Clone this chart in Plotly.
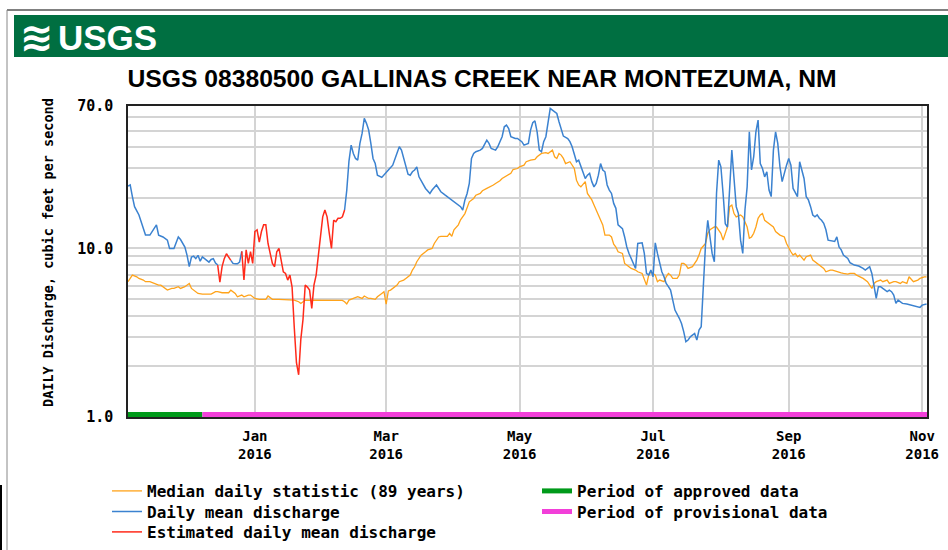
import math
import pandas as pd
import plotly.graph_objects as go

# ---------------- data (day offsets from 2015-11-04, discharge in ft3/s) ----------------
START_DATE = "2015-11-04"
END_DATE = "2016-11-03 05:00"

# Median daily statistic (89 years)
MEDIAN = [(0,6.35),(2,6.95),(4,6.79),(5,6.64),(7,6.49),(8,6.35),(10,6.35),(12,6.2),(14,6.06),(15,6.06),
          (17,5.79),(18,5.66),(20,5.79),(21,5.79),(23,5.93),(24,5.79),(26,5.93),(28,6.2),(29,5.79),(31,5.54),
          (32,5.41),(34,5.36),(37,5.36),(38,5.36),(40,5.54),(41,5.54),(43,5.46),(46,5.46),(47,5.66),(49,5.41),
          (50,5.17),(52,5.29),(53,5.17),(55,5.29),(56,5.29),(58,5.05),(60,4.99),(63,4.99),(64,5.22),(66,4.99),
          (69,4.99),(72,4.99),(75,4.99),(76,4.94),(78,4.83),(79,4.72),(81,4.94),(84,4.94),(87,4.94),(90,4.94),
          (95,4.94),(98,4.92),(99,4.83),(100,4.68),(101,4.94),(103,5.05),(104,5.12),(105,5.17),(107,5.05),(108,5.22),
          (110,5.05),(111,5.05),(113,4.99),(114,5.17),(116,5.41),(117,5.54),(118,4.68),(119,5.6),(120,5.66),(121,5.79),
          (123,6.06),(124,6.35),(126,6.49),(127,6.64),(129,6.95),(130,7.44),(131,7.79),(132,8.34),(133,8.73),(134,9.13),
          (136,9.56),(137,9.8),(139,10.0),(140,10.7),(142,11.7),(143,11.8),(146,11.8),(147,12.3),(148,11.8),(149,12.9),
          (151,13.8),(152,14.8),(154,16.1),(155,17.7),(156,18.9),(158,19.8),(159,20.7),(161,21.2),(162,22.0),(164,22.7),
          (165,23.0),(167,23.8),(168,24.3),(170,25.2),(171,26.0),(173,26.8),(175,27.9),(176,29.4),(178,29.8),(179,30.5),
          (181,31.2),(182,32.7),(184,33.4),(186,33.7),(187,35.0),(189,36.6),(191,37.0),(192,36.6),(194,38.3),(195,35.0),
          (196,34.2),(197,36.6),(198,35.8),(199,34.2),(200,31.9),(202,32.7),(203,31.2),(204,29.8),(205,25.4),(206,23.8),
          (207,23.2),(209,24.9),(210,21.2),(212,19.4),(213,18.1),(214,16.9),(215,15.8),(216,15.1),(217,13.8),(218,12.0),
          (220,12.0),(221,11.7),(222,10.6),(223,10.2),(224,9.56),(226,9.34),(227,8.15),(229,7.79),(230,7.61),(232,7.44),
          (233,7.27),(235,7.11),(236,6.64),(237,6.06),(238,6.95),(239,7.27),(241,6.95),(242,6.35),(243,6.49),(245,6.35),
          (246,6.79),(247,7.11),(248,6.95),(249,6.64),(251,6.64),(252,6.95),(253,8.15),(254,8.15),(255,7.97),(256,7.61),
          (258,7.79),(259,8.15),(260,8.53),(261,9.13),(262,10.0),(264,10.7),(265,12.3),(266,12.9),(268,13.4),(269,13.4),
          (271,12.3),(272,11.2),(274,13.4),(275,17.7),(276,18.1),(277,16.1),(278,15.4),(280,15.8),(281,15.4),(283,13.4),
          (284,11.5),(285,11.7),(286,12.3),(287,13.4),(288,15.1),(289,15.8),(290,16.1),(291,14.7),(292,14.4),(293,14.1),
          (295,13.4),(296,12.6),(298,12.0),(300,11.7),(301,10.7),(303,9.56),(304,9.13),(305,9.34),(306,8.93),(307,9.13),
          (309,8.53),(310,8.93),(312,9.13),(313,8.53),(315,8.15),(316,7.97),(318,7.61),(319,7.27),(321,7.44),(322,7.44),
          (324,7.27),(326,7.17),(327,7.11),(329,7.04),(330,7.11),(332,7.11),(333,6.95),(335,6.79),(336,6.64),(338,6.35),
          (339,6.06),(340,5.79),(341,6.2),(342,6.35),(344,6.49),(345,6.35),(347,6.49),(348,6.2),(350,6.35),(351,6.35),
          (353,6.2),(354,6.35),(356,6.2),(357,6.79),(359,6.35),(361,6.49),(362,6.64),(364,6.79),(365,6.79)]

# Daily mean discharge (measured segments)
DAILY_1 = [(0,23.4),(1,23.8),(2,20.3),(3,17.7),(5,15.8),(6,14.4),(7,13.4),(8,12.0),(10,12.0),(11,12.6),
           (13,13.8),(14,12.0),(16,11.7),(18,11.2),(19,10.0),(21,10.0),(22,11.0),(23,11.7),(24,11.3),(25,10.7),
           (26,10.2),(27,9.1),(28,7.8),(29,8.9),(30,9.0),(31,8.7),(32,9.1),(33,8.4),(34,8.9),(35,8.7),
           (36,8.5),(37,8.3),(38,8.6),(39,8.7),(40,8.2),(41,7.97)]
DAILY_2 = [(47,8.5),(48,8.15),(49,8.1),(50,8.1),(51,8.3),(52,9.6)]
DAILY_3 = [(99,16.9),(100,22.2),(101,33.0),(102,41.0),(103,36.6),(104,34.2),(105,33.4),(106,42.0),(107,48.1),(108,59.1),
           (109,55.2),(110,50.4),(111,42.0),(112,34.2),(113,31.9),(114,27.2),(116,26.4),(117,27.2),(119,29.2),(121,31.2),
           (122,34.2),(124,40.1),(125,38.3),(126,34.2),(127,29.8),(128,27.6),(129,27.2),(130,28.5),(131,29.2),(132,30.5),
           (133,26.6),(135,23.8),(136,22.7),(138,21.2),(139,22.2),(141,23.8),(142,22.7),(143,21.7),(145,20.7),(147,19.8),
           (149,18.9),(151,18.1),(152,17.7),(153,16.9),(154,19.4),(155,21.2),(156,24.3),(157,34.2),(158,36.6),(159,37.5),
           (161,38.3),(162,39.2),(164,43.9),(165,42.0),(166,39.2),(168,38.3),(169,40.1),(170,43.0),(171,46.0),(172,52.7),
           (173,53.9),(174,51.5),(175,46.0),(177,44.9),(178,44.9),(180,43.0),(181,41.0),(183,42.0),(184,50.4),(185,55.7),
           (186,57.2),(187,49.2),(188,38.3),(189,37.5),(190,43.0),(191,46.0),(192,57.7),(193,67.7),(194,66.2),(196,63.2),
           (197,56.4),(198,51.5),(199,46.4),(201,44.9),(202,43.0),(203,40.1),(204,35.8),(205,32.7),(206,33.4),(207,30.5),
           (208,27.9),(209,26.0),(210,27.2),(211,27.9),(212,24.9),(213,23.2),(214,24.3),(215,27.2),(216,31.9),(217,29.2),
           (218,28.5),(219,23.8),(220,22.2),(221,21.2),(222,18.5),(223,17.3),(224,13.8),(225,13.4),(226,13.1),(227,11.7),
           (228,10.2),(229,9.34),(230,8.73),(231,7.97),(232,7.61),(233,10.7),(235,10.8),(236,9.34),(237,7.11),(238,6.95),
           (239,7.44),(240,6.79),(241,10.8),(242,9.34),(243,8.15),(244,7.27),(245,6.79),(246,6.2),(247,5.93),(248,5.66),
           (249,4.94),(250,4.31),(252,3.85),(253,3.59),(254,3.21),(255,2.80),(256,2.86),(257,2.99),(258,3.06),(259,3.13),
           (260,2.86),(261,3.28),(262,3.43),(263,5.66),(264,10.7),(265,14.7),(266,11.5),(267,9.34),(268,8.34),(269,21.2),
           (270,33.4),(271,30.5),(272,21.2),(273,14.0),(274,13.4),(275,23.2),(276,38.3),(277,26.0),(278,17.7),(279,16.1),
           (280,11.2),(281,9.34),(282,16.9),(283,23.2),(284,49.2),(285,29.2),(286,35.0),(287,49.2),(288,57.7),(289,31.9),
           (290,29.8),(291,26.6),(292,28.5),(293,22.2),(294,20.3),(295,38.3),(296,49.2),(297,42.0),(298,30.5),(299,24.9),
           (300,28.5),(301,31.2),(302,34.2),(303,31.2),(304,22.7),(305,21.2),(306,20.3),(307,32.7),(308,29.2),(309,26.0),
           (310,20.3),(311,19.4),(312,17.7),(313,15.8),(314,15.4),(315,15.8),(316,15.1),(317,14.7),(318,14.1),(319,12.9),
           (320,11.2),(322,11.0),(323,11.0),(324,11.7),(325,10.2),(326,9.8),(327,9.13),(329,8.73),(330,8.23),(332,7.97),
           (334,7.86),(336,7.61),(337,7.44),(338,7.61),(339,7.79),(340,7.11),(341,5.93),(342,5.05),(343,5.93),(344,5.93),
           (345,5.79),(346,5.66),(347,5.54),(348,5.66),(349,5.54),(350,5.29),(351,4.72),(352,4.94),(354,4.72),(356,4.68),
           (358,4.61),(360,4.51),(362,4.47),(363,4.61),(365,4.68)]

# Estimated daily mean discharge
EST_1 = [(41,7.97),(42,6.3),(43,7.8),(44,8.7),(45,9.3),(46,8.9),(47,8.5)]
EST_2_DAYS = list(range(52, 100))
EST_2_VALS = [9.6,6.5,9.8,8.15,9.56,8.15,12.6,12.9,10.9,12.6,
              13.8,13.8,10.7,9.34,8.15,7.79,9.56,10.0,8.53,7.27,
              7.11,6.49,6.95,5.9,3.4,2.1,1.78,2.9,3.8,6.06,
              5.9,5.66,4.41,6.06,6.95,9.34,12.3,15.4,16.9,15.4,
              12.3,10.0,14.7,14.4,15.1,15.1,15.4,16.9]

# Data-status periods
APPROVED_PERIOD = ["2015-11-04", "2015-12-08"]
PROVISIONAL_PERIOD = ["2015-12-08", "2016-11-04"]
STATUS_LEVEL = 1.035

X_TICKS = ["2016-01-01", "2016-03-01", "2016-05-01", "2016-07-01", "2016-09-01", "2016-11-01"]
X_TICK_TEXT = ["Jan<br>2016", "Mar<br>2016", "May<br>2016", "Jul<br>2016", "Sep<br>2016", "Nov<br>2016"]
Y_TICKS = [1, 10, 70]
Y_TICK_TEXT = ["1.0", "10.0", "70.0"]
Y_MINOR = [2, 3, 4, 5, 6, 7, 8, 9, 20, 30, 40, 50, 60]

TITLE = "USGS 08380500 GALLINAS CREEK NEAR MONTEZUMA, NM"
YLABEL = "DAILY Discharge, cubic feet per second"

# ---------------- helpers ----------------
start = pd.Timestamp(START_DATE)


def dates(days):
    return [start + pd.Timedelta(days=d) for d in days]


def segs(*segments):
    xs, ys = [], []
    for i, seg in enumerate(segments):
        if i:
            xs.append(None)
            ys.append(None)
        d, v = zip(*seg)
        xs += dates(d)
        ys += list(v)
    return xs, ys


mono = "DejaVu Sans Mono"
ORANGE = "#ffa31a"
BLUE = "#3b82d0"
RED = "#ff2a1a"
GREEN = "#009a1a"
MAGENTA = "#f23fd9"

fig = go.Figure()

fig.add_trace(go.Scatter(x=APPROVED_PERIOD, y=[STATUS_LEVEL] * 2, mode="lines",
                         line=dict(color=GREEN, width=5), name="Period of approved data",
                         legend="legend2"))
fig.add_trace(go.Scatter(x=PROVISIONAL_PERIOD, y=[STATUS_LEVEL] * 2, mode="lines",
                         line=dict(color=MAGENTA, width=5), name="Period of provisional data",
                         legend="legend4"))

mx, my = segs(MEDIAN)
fig.add_trace(go.Scatter(x=mx, y=my, mode="lines", line=dict(color=ORANGE, width=1.3),
                         name="Median daily statistic (89 years)", legend="legend"))
bx, by = segs(DAILY_1, DAILY_2, DAILY_3)
fig.add_trace(go.Scatter(x=bx, y=by, mode="lines", line=dict(color=BLUE, width=1.5),
                         name="Daily mean discharge", legend="legend3", connectgaps=False))
ex, ey = segs(EST_1, list(zip(EST_2_DAYS, EST_2_VALS)))
fig.add_trace(go.Scatter(x=ex, y=ey, mode="lines", line=dict(color=RED, width=1.5),
                         name="Estimated daily mean discharge", legend="legend5", connectgaps=False))

# ---------------- layout ----------------
L, R, T, B = 128, 21, 106, 133
W, H = 948, 550
pw, ph = W - L - R, H - T - B


def px(x):
    return (x - L) / pw


def py(y):
    return (H - B - y) / ph


shapes = [
    dict(type="rect", xref="paper", yref="paper", x0=px(14), x1=px(948), y0=py(57), y1=py(15),
         fillcolor="#006f41", line=dict(width=0), layer="below"),
    dict(type="line", xref="paper", yref="paper", x0=px(7), x1=px(948), y0=py(10), y1=py(10),
         line=dict(color="black", width=1)),
    dict(type="line", xref="paper", yref="paper", x0=px(7), x1=px(7), y0=py(10), y1=py(550),
         line=dict(color="#888888", width=1)),
    dict(type="line", xref="paper", yref="paper", x0=px(1), x1=px(1), y0=py(485), y1=py(550),
         line=dict(color="black", width=2)),
]

annotations = [
    dict(text="≋", xref="paper", yref="paper", x=px(37), y=py(37), showarrow=False,
         font=dict(family="DejaVu Sans", size=40, color="white", weight="bold"),
         xanchor="center", yanchor="middle"),
    dict(text="USGS", xref="paper", yref="paper", x=px(56), y=py(37), showarrow=False,
         font=dict(family="Liberation Sans", size=35, color="white", weight="bold"),
         xanchor="left", yanchor="middle"),
    dict(text=YLABEL, xref="paper", yref="paper", x=px(47.5), y=py(252.5), showarrow=False,
         textangle=-90, font=dict(family=mono, size=13.5, color="black", weight="bold"),
         xanchor="center", yanchor="middle"),
]

legend_font = dict(family=mono, size=16, color="black", weight="bold")


def legend_at(left, top):
    return dict(orientation="v", x=px(left), xanchor="left", y=py(top), yanchor="top",
                itemwidth=30, bgcolor="rgba(0,0,0,0)", font=legend_font)


fig.update_layout(
    width=W, height=H,
    margin=dict(l=L, r=R, t=T, b=B, pad=0, autoexpand=False),
    paper_bgcolor="white", plot_bgcolor="white",
    title=dict(text=TITLE, x=482 / W, xref="container", xanchor="center",
               y=1 - 78 / H, yref="container", yanchor="middle",
               font=dict(family="Liberation Sans, Arial, sans-serif", size=24.7, color="black",
                         weight="bold")),
    shapes=shapes,
    annotations=annotations,
    showlegend=True,
    legend=legend_at(107, 474),
    legend2=legend_at(537, 474),
    legend3=legend_at(107, 494.5),
    legend4=legend_at(537, 494.5),
    legend5=legend_at(107, 515),
    xaxis=dict(type="date", range=[START_DATE, END_DATE],
               tickvals=X_TICKS, ticktext=X_TICK_TEXT, ticks="",
               tickfont=dict(family=mono, size=14, color="black", weight="bold"),
               ticklabelstandoff=5,
               showgrid=True, gridcolor="#d4d4d4", gridwidth=2,
               showline=True, linecolor="#222222", linewidth=1.5, mirror=True, zeroline=False),
    yaxis=dict(type="log", range=[0, math.log10(70)],
               tickvals=Y_TICKS, ticktext=Y_TICK_TEXT, ticks="",
               tickfont=dict(family=mono, size=15, color="black", weight="bold"),
               showgrid=True, gridcolor="#d4d4d4", gridwidth=1.5,
               minor=dict(tickvals=Y_MINOR, showgrid=True, gridcolor="#d4d4d4", gridwidth=1.5, ticks=""),
               showline=True, linecolor="#222222", linewidth=1.5, mirror=True, zeroline=False,
               ticklabelstandoff=10),
)

fig.write_html("out.html",
               config={"displayModeBar": False},
               post_script="document.body.style.margin='0px';document.body.style.padding='0px';")
